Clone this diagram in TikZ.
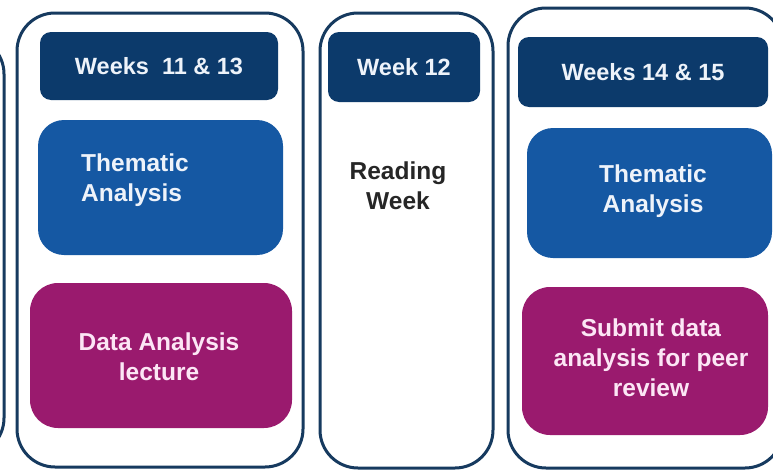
\documentclass[tikz,border=0pt]{standalone}
\usepackage{fontspec}
\setmainfont{Liberation Sans}
\definecolor{outl}{HTML}{163A5F}
\definecolor{navy}{HTML}{0C3A6B}
\definecolor{bluebox}{HTML}{1558A3}
\definecolor{magbox}{HTML}{9A1A6E}
\definecolor{pinktxt}{HTML}{FCE6F5}
\definecolor{paletxt}{HTML}{EEF3FA}
\tikzset{
  container/.style={draw=outl, line width=3pt, rounded corners=38pt, fill=white},
  header/.style={fill=navy, draw=none, rounded corners=11pt, text=paletxt, font=\bfseries\fontsize{23.5}{28}\selectfont},
  bluetile/.style={fill=bluebox, draw=none, rounded corners=26pt},
  magtile/.style={fill=magbox, draw=none, rounded corners=28pt},
  tiletext/.style={font=\bfseries\fontsize{24.5}{30}\selectfont, align=center, inner sep=0pt},
}
\begin{document}
\begin{tikzpicture}[x=1pt,y=-1pt]
\useasboundingbox (0,0) rectangle (773,471);
\fill[white] (0,0) rectangle (773,471);
% left partial container
\node[container, minimum width=400pt, minimum height=420pt] (c0) at (-196,246) {};
% container Weeks 11 & 13
\node[container, minimum width=286pt, minimum height=454pt] (c1) at (160,240) {};
\node[header, minimum width=238pt, minimum height=68pt] (h1) at (159,66) {Weeks\ \ 11 \& 13};
\node[bluetile, minimum width=245pt, minimum height=135pt] (t1) at (160.5,187.5) {};
\node[tiletext, text=paletxt, align=left, anchor=west] (t1txt) at (81,180) {Thematic\\Analysis};
\node[magtile, minimum width=262pt, minimum height=145pt] (m1) at (161,355.5) {};
\node[tiletext, text=pinktxt] (m1txt) at (159,357) {Data Analysis\\lecture};
% container Week 12
\node[container, minimum width=173pt, minimum height=455pt] (c2) at (406.5,240.5) {};
\node[header, minimum width=152pt, minimum height=70pt] (h2) at (404,67) {Week 12};
\node[tiletext, text=black!85] (r2txt) at (398,186) {Reading\\Week};
% container Weeks 14 & 15
\node[container, minimum width=275pt, minimum height=460pt] (c3) at (645.5,238) {};
\node[header, minimum width=250pt, minimum height=70pt] (h3) at (643,72) {Weeks 14 \& 15};
\node[bluetile, minimum width=245pt, minimum height=130pt] (t3) at (649.5,193) {};
\node[tiletext, text=paletxt] (t3txt) at (653,191) {Thematic\\Analysis};
\node[magtile, minimum width=246pt, minimum height=148pt] (m3) at (645,361) {};
\node[tiletext, text=pinktxt] (m3txt) at (651,358) {Submit data\\analysis for peer\\review};
\end{tikzpicture}
\end{document}
